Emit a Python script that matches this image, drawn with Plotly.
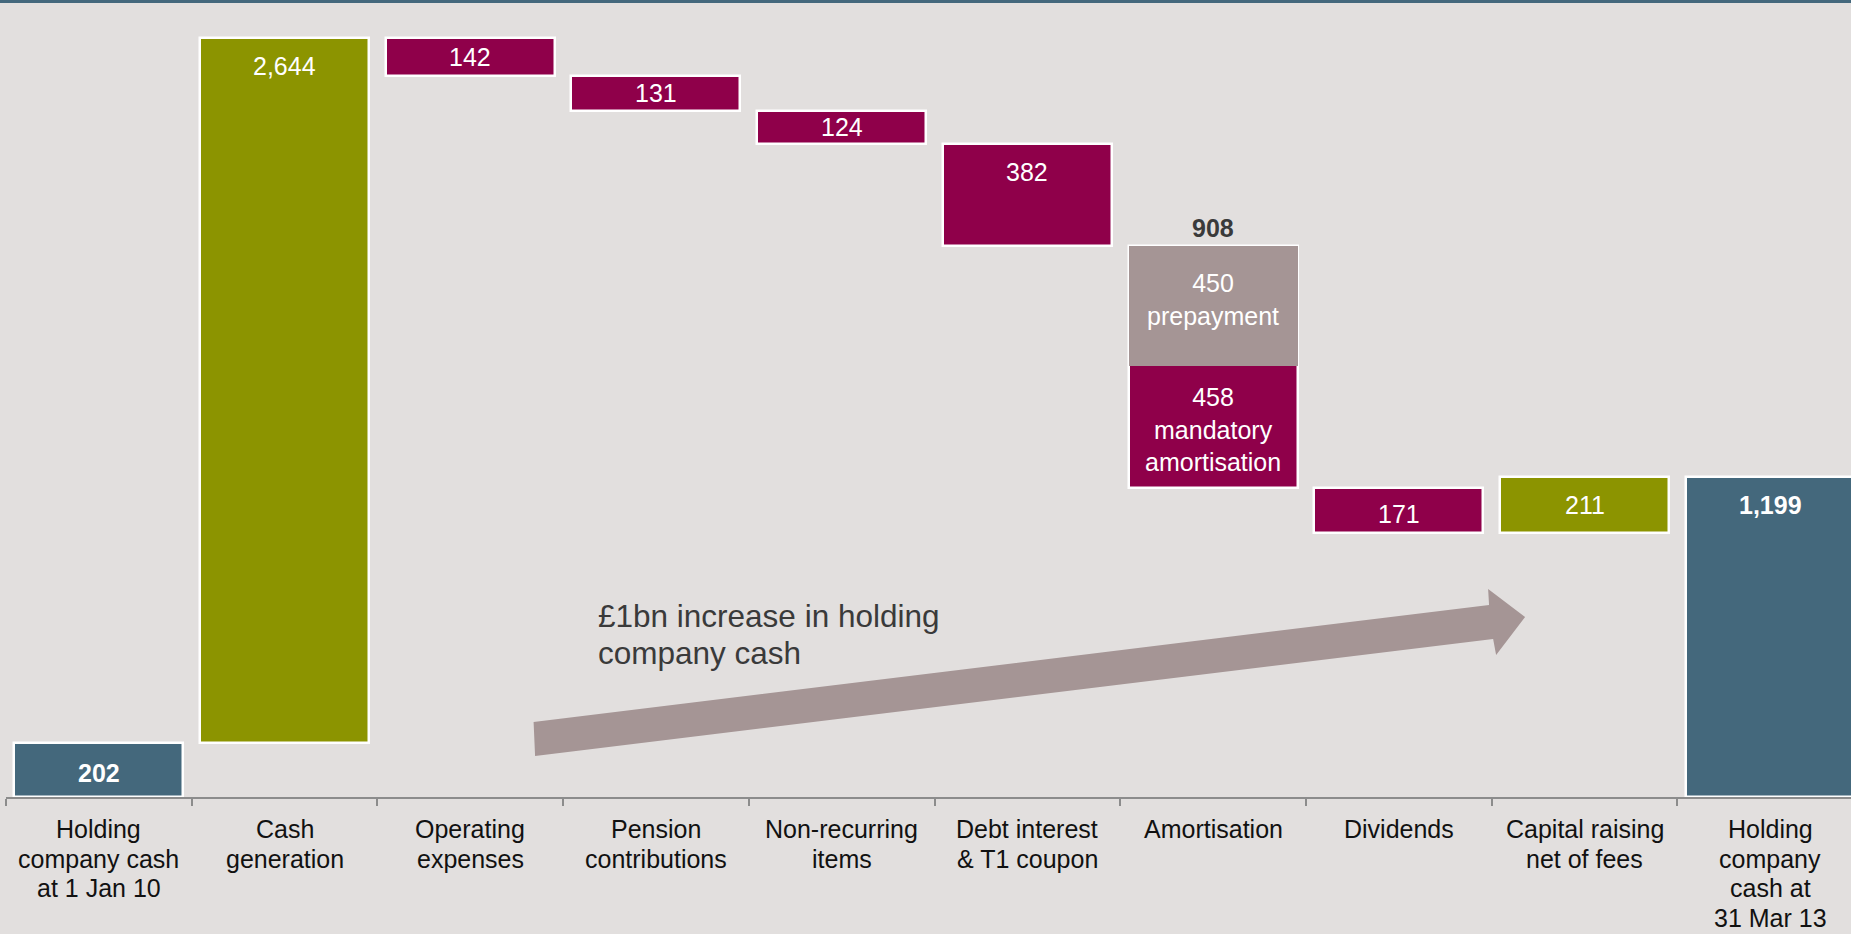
import plotly.graph_objects as go

# Holding company cash bridge, 1 Jan 10 to 31 Mar 13 (GBP m)
categories = [
    "Holding<br>company cash<br>at 1 Jan 10",
    "Cash<br>generation",
    "Operating<br>expenses",
    "Pension<br>contributions",
    "Non-recurring<br>items",
    "Debt interest<br>& T1 coupon",
    "Amortisation",
    "Dividends",
    "Capital raising<br>net of fees",
    "Holding<br>company<br>cash at<br>31 Mar 13",
]
steps = [202, 2644, -142, -131, -124, -382, -908, -171, 211, 1199]
step_kind = ["total", "up", "down", "down", "down", "down", "down", "down", "up", "total"]

# Split of the amortisation step
prepayment = 450
mandatory = 458
amort_index = 6

BLUE = "#44687c"
OLIVE = "#8c9400"
MAGENTA = "#8f004a"
GREY = "#a59595"
BG = "#e2dfde"
FONT = "Liberation Sans, Arial, sans-serif"

kind_colour = {"total": BLUE, "up": OLIVE, "down": MAGENTA}

# Running totals -> floating bar bases and heights
bases, heights = [], []
running = 0
for v, k in zip(steps, step_kind):
    if k == "total":
        bases.append(0)
        heights.append(v)
        running = v
    elif v > 0:
        bases.append(running)
        heights.append(v)
        running += v
    else:
        bases.append(running + v)
        heights.append(-v)
        running += v

x = list(range(len(categories)))
Y_MAX = 2988
PLOT_H = 797
px_per_unit = PLOT_H / Y_MAX

fig = go.Figure()
fig.add_trace(go.Bar(
    x=x, y=heights, base=bases, width=0.91,
    marker=dict(color=[kind_colour[k] for k in step_kind],
                line=dict(color="white", width=2.5)),
    hoverinfo="skip", showlegend=False,
))
# prepayment slice sits on top of the amortisation bar
amort_top = bases[amort_index] + heights[amort_index]
fig.add_trace(go.Bar(
    x=[amort_index], y=[prepayment], base=[amort_top - prepayment], width=0.91,
    marker=dict(color=GREY, line=dict(width=0)),
    hoverinfo="skip", showlegend=False,
))

annotations = []
label_offset = 28 / px_per_unit  # distance of a label below its bar top
for i, (v, k) in enumerate(zip(steps, step_kind)):
    if i == amort_index:
        continue
    top = bases[i] + heights[i]
    centred = heights[i] / 2 < label_offset
    y = top - min(label_offset, heights[i] / 2)
    text = f"{abs(v):,}"
    if k == "total":
        text = f"<b>{text}</b>"
    annotations.append(dict(x=i, y=y, yshift=-3 if (centred and heights[i] > 150) else 0,
                            text=text, showarrow=False,
                            xanchor="center", yanchor="middle",
                            font=dict(family=FONT, size=25, color="white")))

# amortisation: total above, split labels inside
annotations.append(dict(x=amort_index, y=amort_top, yshift=18, text="<b>908</b>",
                        showarrow=False, yanchor="middle",
                        font=dict(family=FONT, size=25, color="#3a3a3a")))
annotations.append(dict(x=amort_index, y=amort_top - prepayment / 2, yshift=6,
                        text=f"{prepayment}<br>prepayment", showarrow=False,
                        yanchor="middle",
                        font=dict(family=FONT, size=25, color="white")))
annotations.append(dict(x=amort_index, y=amort_top - prepayment - mandatory / 2,
                        yshift=-3,
                        text=f"{mandatory}<br>mandatory<br>amortisation",
                        showarrow=False, yanchor="middle",
                        font=dict(family=FONT, size=25, color="white")))

# category labels, one annotation per line for tight line spacing
for i, cat in enumerate(categories):
    for j, line in enumerate(cat.split("<br>")):
        annotations.append(dict(x=i, y=0, yshift=-(32 + j * 29.5), text=line,
                                showarrow=False, xanchor="center", yanchor="middle",
                                font=dict(family=FONT, size=25, color="#111111")))

# arrow caption
for j, line in enumerate(["£1bn increase in holding", "company cash"]):
    annotations.append(dict(x=2.677, y=678.5, yshift=-j * 36.6, text=line,
                            showarrow=False, xanchor="left", yanchor="middle",
                            font=dict(family=FONT, size=31.5, color="#3a3a3a")))

shapes = [
    # block arrow
    dict(type="path", xref="x", yref="y",
         path="M 2.349,153.7 L 2.341,281.2 L 7.486,719.7 L 7.481,779.7 "
              "L 7.680,674.8 L 7.524,532.3 L 7.508,592.3 Z",
         fillcolor=GREY, line=dict(width=0), layer="below"),
    # rule along the top edge
    dict(type="rect", xref="paper", yref="paper", x0=-0.01, x1=1.01,
         y0=1 - 3 / PLOT_H, y1=1.0, fillcolor=BLUE, line=dict(width=0)),
]

fig.update_layout(
    width=1851, height=934,
    margin=dict(l=6, r=0, t=0, b=934 - PLOT_H),
    paper_bgcolor=BG, plot_bgcolor=BG,
    barmode="overlay", bargap=0,
    annotations=annotations, shapes=shapes,
    xaxis=dict(range=[-0.5, 9.435], tickvals=[i - 0.5 for i in range(10)],
               ticks="outside", ticklen=7, tickwidth=1.5, tickcolor="#8c8c8c",
               showticklabels=False, showline=True, linecolor="#8c8c8c",
               linewidth=1.5, showgrid=False, zeroline=False, fixedrange=True),
    yaxis=dict(range=[0, Y_MAX], visible=False, showgrid=False,
               zeroline=False, fixedrange=True),
)

fig.write_html("out.html", config={"displayModeBar": False})
